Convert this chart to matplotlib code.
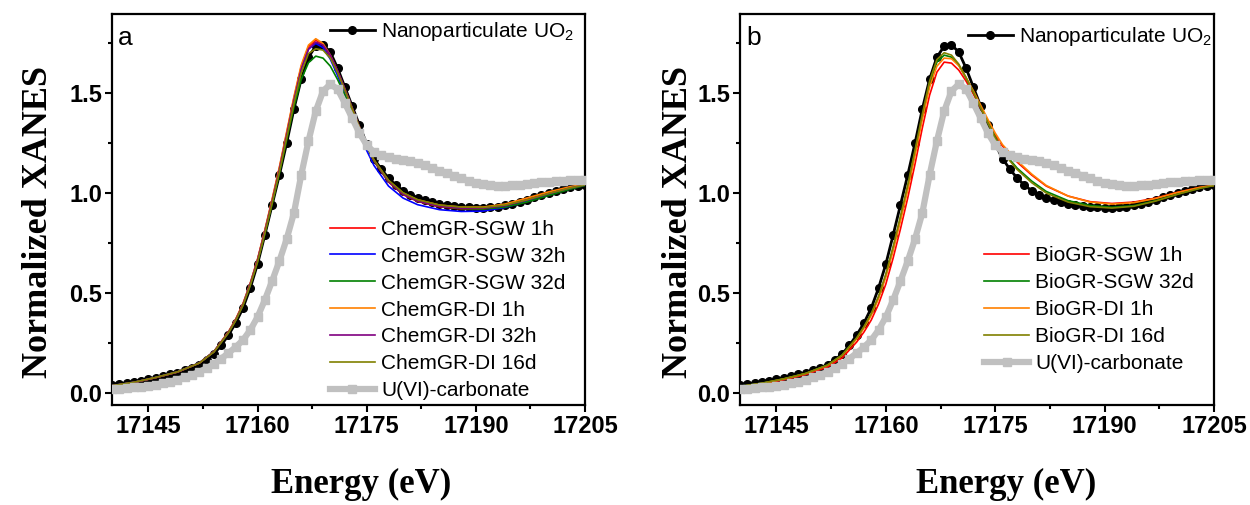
import numpy as np
import matplotlib
matplotlib.use("Agg")
import matplotlib.pyplot as plt
from matplotlib.ticker import MultipleLocator
from matplotlib.lines import Line2D

plt.rcParams['font.family'] = ['Liberation Sans', 'DejaVu Sans']
plt.rcParams['mathtext.default'] = 'regular'

# reference spectra, 1 eV steps
energy = np.arange(17140, 17206)
uo2 = [0.038, 0.043, 0.049, 0.055, 0.062, 0.069, 0.077, 0.085, 0.093, 0.102,
       0.113, 0.126, 0.142, 0.165, 0.195, 0.238, 0.290, 0.350, 0.425, 0.525,
       0.645, 0.790, 0.940, 1.090, 1.250, 1.420, 1.570, 1.680, 1.735, 1.742,
       1.705, 1.625, 1.530, 1.435, 1.340, 1.245, 1.172, 1.120, 1.075, 1.040,
       1.012, 0.992, 0.976, 0.964, 0.955, 0.947, 0.940, 0.935, 0.931, 0.928,
       0.926, 0.926, 0.928, 0.932, 0.938, 0.946, 0.956, 0.967, 0.979, 0.991,
       1.002, 1.012, 1.021, 1.029, 1.036, 1.042]
carbonate = [0.020, 0.022, 0.025, 0.028, 0.031, 0.036, 0.042, 0.049, 0.057, 0.067,
             0.078, 0.091, 0.106, 0.124, 0.146, 0.172, 0.200, 0.230, 0.265, 0.315,
             0.380, 0.465, 0.560, 0.660, 0.770, 0.900, 1.090, 1.260, 1.410, 1.510,
             1.545, 1.520, 1.450, 1.375, 1.300, 1.240, 1.205, 1.190, 1.180, 1.172,
             1.166, 1.160, 1.150, 1.138, 1.125, 1.112, 1.100, 1.087, 1.074, 1.061,
             1.050, 1.043, 1.039, 1.037, 1.037, 1.039, 1.042, 1.045, 1.049, 1.053,
             1.057, 1.060, 1.062, 1.064, 1.065, 1.066]

# sample spectra
e_s = [17140, 17143, 17146, 17149, 17152, 17154, 17156, 17157, 17158, 17159,
       17160, 17161, 17162, 17163, 17164, 17165, 17166, 17167, 17168, 17169,
       17170, 17171, 17172, 17173, 17174, 17175, 17176, 17178, 17180, 17182,
       17185, 17188, 17191, 17194, 17197, 17200, 17203, 17205]

chem_sgw_1h = [.036, .053, .077, .105, .150, .207, .305, .368, .445, .548, .668, .812, .965, 1.125,
               1.300, 1.475, 1.632, 1.732, 1.765, 1.742, 1.685, 1.605, 1.515, 1.420, 1.325, 1.235,
               1.160, 1.055, .992, .958, .932, .921, .921, .940, .972, 1.003, 1.030, 1.040]
chem_sgw_32h = [.037, .054, .078, .106, .151, .207, .303, .365, .442, .545, .664, .808, .960, 1.118,
                1.292, 1.468, 1.622, 1.720, 1.748, 1.728, 1.670, 1.588, 1.496, 1.400, 1.304, 1.213,
                1.138, 1.035, .975, .942, .917, .908, .910, .928, .958, .992, 1.022, 1.040]
chem_sgw_32d = [.036, .053, .077, .105, .150, .206, .302, .364, .440, .540, .656, .796, .945, 1.098,
                1.265, 1.430, 1.568, 1.652, 1.685, 1.675, 1.635, 1.568, 1.490, 1.405, 1.318, 1.232,
                1.160, 1.058, .995, .960, .935, .922, .920, .930, .955, .988, 1.020, 1.038]
chem_di_1h = [.036, .053, .077, .105, .150, .207, .306, .370, .448, .550, .670, .815, .970, 1.130,
              1.306, 1.482, 1.640, 1.740, 1.772, 1.748, 1.690, 1.610, 1.520, 1.425, 1.330, 1.240,
              1.165, 1.062, 1.000, .966, .940, .930, .930, .945, .975, 1.006, 1.032, 1.045]
chem_di_32h = [.036, .053, .077, .105, .150, .206, .303, .366, .443, .545, .664, .807, .958, 1.117,
               1.290, 1.465, 1.620, 1.720, 1.755, 1.740, 1.690, 1.612, 1.522, 1.428, 1.332, 1.240,
               1.163, 1.058, .995, .960, .934, .924, .924, .937, .965, .997, 1.026, 1.041]
chem_di_16d = [.037, .054, .078, .106, .150, .205, .300, .362, .438, .538, .655, .797, .948, 1.105,
               1.275, 1.448, 1.600, 1.698, 1.722, 1.715, 1.675, 1.602, 1.515, 1.424, 1.330, 1.240,
               1.166, 1.064, 1.002, .967, .940, .930, .928, .940, .966, .998, 1.026, 1.041]

bio_sgw_1h = [.030, .045, .066, .092, .130, .175, .255, .305, .365, .445, .545, .675, .820, .975,
              1.145, 1.325, 1.490, 1.605, 1.655, 1.650, 1.615, 1.560, 1.495, 1.425, 1.355, 1.290,
              1.235, 1.155, 1.090, 1.035, .985, .957, .948, .955, .975, 1.004, 1.028, 1.038]
bio_sgw_32d = [.033, .049, .071, .098, .140, .190, .275, .330, .395, .480, .590, .725, .875, 1.030,
               1.205, 1.385, 1.550, 1.655, 1.690, 1.680, 1.640, 1.575, 1.505, 1.430, 1.355, 1.280,
               1.210, 1.125, 1.060, 1.008, .962, .938, .929, .937, .962, .995, 1.024, 1.038]
bio_di_1h = [.032, .048, .070, .097, .138, .187, .270, .324, .388, .472, .580, .712, .860, 1.015,
             1.188, 1.368, 1.530, 1.635, 1.675, 1.672, 1.637, 1.578, 1.512, 1.440, 1.368, 1.300,
             1.242, 1.162, 1.095, 1.038, .985, .955, .945, .952, .973, 1.003, 1.028, 1.039]
bio_di_16d = [.033, .049, .071, .098, .140, .190, .276, .332, .398, .484, .595, .732, .884, 1.040,
              1.215, 1.395, 1.560, 1.668, 1.702, 1.690, 1.645, 1.578, 1.505, 1.428, 1.350, 1.275,
              1.205, 1.118, 1.052, 1.000, .955, .932, .925, .934, .960, .994, 1.023, 1.038]

chem_labels = ['ChemGR-SGW 1h', 'ChemGR-SGW 32h', 'ChemGR-SGW 32d',
               'ChemGR-DI 1h', 'ChemGR-DI 32h', 'ChemGR-DI 16d']
chem_data = [chem_sgw_1h, chem_sgw_32h, chem_sgw_32d, chem_di_1h, chem_di_32h, chem_di_16d]
chem_colors = ['#ff0000', '#0000ff', '#008000', '#ff8000', '#800080', '#808000']

bio_labels = ['BioGR-SGW 1h', 'BioGR-SGW 32d', 'BioGR-DI 1h', 'BioGR-DI 16d']
bio_data = [bio_sgw_1h, bio_sgw_32d, bio_di_1h, bio_di_16d]
bio_colors = ['#ff0000', '#008000', '#ff8000', '#808000']

GREY = '#c0c0c0'


def panel(ax, labels, data, colors, letter, leg_xy, top_xy):
    ax.plot(energy, uo2, color='black', lw=2.0, marker='o', ms=5.5, zorder=2)
    for lab, y, c in zip(labels, data, colors):
        ax.plot(e_s, y, color=c, lw=1.2, label=lab, zorder=3)
    ax.plot(energy, carbonate, color=GREY, lw=4.5, marker='s', ms=6,
            label='U(VI)-carbonate', zorder=4)

    ax.set_xlim(17140, 17205)
    ax.set_ylim(-0.06, 1.895)
    ax.xaxis.set_major_locator(MultipleLocator(15))
    ax.xaxis.set_minor_locator(MultipleLocator(7.5))
    ax.yaxis.set_major_locator(MultipleLocator(0.5))
    ax.yaxis.set_minor_locator(MultipleLocator(0.25))
    ax.tick_params(which='both', direction='out', width=1.5, top=False, right=False)
    ax.tick_params(which='major', length=5, labelsize=17, pad=2)
    ax.tick_params(which='minor', length=3)
    for lab in ax.get_xticklabels() + ax.get_yticklabels():
        lab.set_fontweight('bold')
    for s in ax.spines.values():
        s.set_linewidth(1.6)

    ax.text(0.013, 0.92, letter, transform=ax.transAxes, fontsize=19)

    leg = ax.legend(loc='lower left', bbox_to_anchor=leg_xy, frameon=False,
                    fontsize=15, handlelength=2.15, handletextpad=0.3,
                    labelspacing=0.38, borderpad=0, borderaxespad=0, numpoints=1)
    ax.add_artist(leg)
    h = Line2D([], [], color='black', lw=2.0, marker='o', ms=5.5)
    ax.legend([h], ['Nanoparticulate UO$_2$'], loc='upper left', bbox_to_anchor=top_xy,
              frameon=False, fontsize=15, handlelength=2.15, handletextpad=0.3,
              borderpad=0, borderaxespad=0, numpoints=1)


fig = plt.figure(figsize=(12.5, 5.05), dpi=100)
ax1 = fig.add_axes([0.0896, 0.198, 0.3784, 0.774])
ax2 = fig.add_axes([0.592, 0.198, 0.3792, 0.774])

panel(ax1, chem_labels, chem_data, chem_colors, 'a', (0.461, 0.012), (0.461, 0.985))
panel(ax2, bio_labels, bio_data, bio_colors, 'b', (0.515, 0.082), (0.481, 0.972))

for x in (0.031, 0.543):
    fig.text(x, 0.56, 'Normalized XANES', rotation=90, ha='center', va='center',
             fontsize=26, fontweight='bold', family='Liberation Serif')
for x in (0.289, 0.805):
    fig.text(x, 0.04, 'Energy (eV)', ha='center', va='center',
             fontsize=25, fontweight='bold', family='Liberation Serif')

fig.savefig('out.png', dpi=100)
